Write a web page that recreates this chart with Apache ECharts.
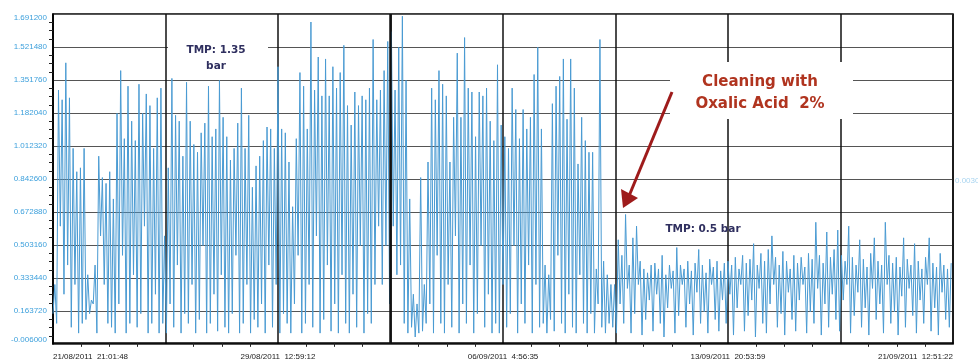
<!DOCTYPE html>
<html>
<head>
<meta charset="utf-8">
<script src="https://cdn.jsdelivr.net/npm/echarts@6/dist/echarts.min.js"></script>
<style>
  html, body { margin: 0; padding: 0; background: #fff; }
  #chart { width: 978px; height: 361px; }
</style>
</head>
<body>
<div id="chart"></div>
<script>
// time axis: 8 grid columns, a date label every 2 columns
const startMs = Date.UTC(2011, 7, 21, 21, 1, 48);
const columnMs = 331121750;
const columnCount = 8;
const xTickLabels = ['21/08/2011  21:01:48', '29/08/2011  12:59:12', '06/09/2011  4:56:35', '13/09/2011  20:53:59', '21/09/2011  12:51:22'];

// y axis
const yMin = -0.006;
const yMax = 1.6912;
const yStep = 0.16972;

// readings before the cleaning (peaks and the dips after them)
const peaksBefore = [
  0.30, 1.30, 1.25, 1.44, 1.26, 1.00, 0.88, 0.90, 1.00, 0.35, 0.22, 0.40, 0.96, 0.85, 0.82, 0.88, 0.74, 1.18, 1.40, 1.05, 1.32, 1.14, 1.04, 1.33, 1.18, 1.28, 1.22, 1.00, 1.26, 1.31,
  0.55, 0.90, 1.36, 1.17, 1.14, 0.96, 1.34, 1.14, 1.02, 0.98, 1.08, 1.13, 1.32, 1.06, 1.10, 1.35, 1.16, 1.06, 0.94, 1.00, 1.13, 1.31, 1.00, 1.17, 0.80, 0.91, 0.96, 1.04, 1.11, 1.10,
  1.00, 1.42, 1.10, 1.08, 0.93, 0.70, 1.05, 1.39, 1.32, 1.10, 1.65, 1.30, 1.47, 1.27, 1.46, 1.27, 1.42, 1.31, 1.39, 1.53, 1.22, 1.12, 1.29, 1.22, 1.27, 1.25, 1.31, 1.56, 1.25, 1.30,
  1.40, 1.55, 1.60, 1.30, 1.52, 1.68, 1.35, 0.74, 0.25, 0.20, 0.85, 0.30, 0.93, 1.31, 1.25, 1.40, 1.33, 1.27, 0.93, 1.16, 1.49, 1.16, 1.57, 1.31, 1.29, 1.06, 1.29, 1.27, 1.31, 1.14, 1.04,
  1.43, 1.12, 1.06, 1.00, 1.31, 1.20, 1.05, 1.20, 1.10, 1.16, 1.38, 1.52, 1.10, 0.40, 0.35, 1.23, 1.32, 1.37, 1.46, 1.15, 1.46, 1.31, 0.92, 1.16, 1.04, 0.98, 0.98, 0.38, 1.56, 0.42, 0.35, 0.30
];
const troughsBefore = [
  0.15, 0.10, 0.60, 0.25, 0.40, 0.08, 0.30, 0.05, 0.10, 0.12, 0.15, 0.20, 0.05, 0.55, 0.30, 0.10, 0.08, 0.05, 0.20, 0.45, 0.05, 0.10, 0.35, 0.08, 0.15, 0.60, 0.05, 0.10, 0.25, 0.05,
  0.10, 0.05, 0.20, 0.08, 0.40, 0.05, 0.15, 0.10, 0.30, 0.05, 0.12, 0.50, 0.05, 0.10, 0.25, 0.06, 0.35, 0.08, 0.05, 0.15, 0.45, 0.05, 0.10, 0.30, 0.05, 0.12, 0.08, 0.20, 0.05, 0.40,
  0.08, 0.30, 0.05, 0.15, 0.10, 0.05, 0.20, 0.45, 0.05, 0.10, 0.30, 0.08, 0.55, 0.05, 0.12, 0.40, 0.06, 0.20, 0.05, 0.35, 0.10, 0.05, 0.25, 0.08, 0.50, 0.05, 0.15, 0.10, 0.30, 0.60,
  0.30, 0.50, 0.20, 0.60, 0.35, 0.40, 0.10, 0.05, 0.08, 0.03, 0.05, 0.06, 0.10, 0.20, 0.05, 0.45, 0.10, 0.05, 0.30, 0.08, 0.55, 0.05, 0.20, 0.10, 0.40, 0.05, 0.15, 0.50, 0.08, 0.25, 0.05,
  0.10, 0.05, 0.30, 0.08, 0.15, 0.50, 0.05, 0.20, 0.10, 0.40, 0.05, 0.30, 0.08, 0.10, 0.05, 0.12, 0.06, 0.45, 0.10, 0.05, 0.25, 0.08, 0.05, 0.35, 0.10, 0.05, 0.15, 0.05, 0.20, 0.08, 0.05, 0.10
];

// readings after cleaning with oxalic acid
const peaksAfter = [
  0.30, 0.53, 0.45, 0.66, 0.40, 0.54, 0.60, 0.42, 0.38, 0.36, 0.40, 0.41, 0.38, 0.45, 0.35, 0.40, 0.37, 0.49, 0.40, 0.38, 0.42, 0.37, 0.41, 0.48, 0.40, 0.36, 0.43, 0.39, 0.42, 0.37, 0.41,
  0.42, 0.40, 0.44, 0.38, 0.45, 0.41, 0.43, 0.51, 0.40, 0.46, 0.42, 0.48, 0.55, 0.44, 0.40, 0.47, 0.42, 0.38, 0.45, 0.41, 0.44, 0.39, 0.46, 0.43, 0.62, 0.45, 0.41, 0.57, 0.44, 0.48, 0.58,
  0.45, 0.42, 0.60, 0.44, 0.40, 0.53, 0.43, 0.39, 0.46, 0.54, 0.42, 0.40, 0.62, 0.45, 0.41, 0.44, 0.39, 0.54, 0.43, 0.40, 0.51, 0.42, 0.38, 0.44, 0.54, 0.41, 0.39, 0.46, 0.40, 0.38, 0.41
];
const troughsAfter = [
  0.08, 0.05, 0.20, 0.10, 0.28, 0.05, 0.15, 0.30, 0.04, 0.12, 0.22, 0.06, 0.25, 0.10, 0.03, 0.18, 0.28, 0.05, 0.14, 0.30, 0.08, 0.20, 0.04, 0.26, 0.10, 0.16, 0.05, 0.30, 0.12, 0.06, 0.22,
  0.10, 0.25, 0.04, 0.18, 0.30, 0.06, 0.14, 0.22, 0.03, 0.28, 0.10, 0.05, 0.20, 0.30, 0.08, 0.15, 0.04, 0.26, 0.12, 0.06, 0.22, 0.30, 0.05, 0.16, 0.10, 0.28, 0.04, 0.20, 0.08, 0.25, 0.12,
  0.06, 0.22, 0.30, 0.05, 0.14, 0.26, 0.08, 0.18, 0.04, 0.28, 0.12, 0.20, 0.05, 0.30, 0.10, 0.16, 0.04, 0.24, 0.08, 0.28, 0.14, 0.05, 0.22, 0.10, 0.30, 0.06, 0.18, 0.04, 0.26, 0.12, 0.08
];

const peaks = peaksBefore.concat(peaksAfter);
const troughs = troughsBefore.concat(troughsAfter);
const endMs = startMs + columnCount * columnMs;
const pointCount = peaks.length * 2;
const stepMs = (endMs - startMs) / pointCount;

const seriesData = [];
peaks.forEach((p, i) => {
  seriesData.push([startMs + (2 * i) * stepMs, troughs[i]]);
  seriesData.push([startMs + (2 * i + 1) * stepMs, p]);
});

const chart = echarts.init(document.getElementById('chart'));

const option = {
  animation: false,
  backgroundColor: '#fff',
  grid: {
    left: 53, right: 25, top: 14, bottom: 17,
    show: true, borderColor: '#000', borderWidth: 1.5
  },
  xAxis: {
    type: 'value',
    min: startMs,
    max: endMs,
    interval: columnMs,
    axisLine: { lineStyle: { color: '#000', width: 1.5 } },
    axisTick: { show: false },
    minorTick: { show: true, splitNumber: 4, length: 4, lineStyle: { color: '#222', width: 1 } },
    axisLabel: {
      fontSize: 8, color: '#222', fontFamily: 'Liberation Sans', margin: 9,
      alignMinLabel: 'left', alignMaxLabel: 'right',
      showMinLabel: true, showMaxLabel: true,
      formatter: (v) => {
        const idx = Math.round((v - startMs) / columnMs);
        return idx % 2 === 0 ? (xTickLabels[idx / 2] || '') : '';
      }
    },
    splitLine: { show: true, lineStyle: { color: '#111', width: 1.5 } }
  },
  yAxis: {
    type: 'value',
    min: yMin,
    max: yMax,
    interval: yStep,
    axisLine: { show: true, lineStyle: { color: '#000', width: 1.5 } },
    axisTick: { show: false },
    minorTick: { show: true, splitNumber: 4, length: 4, lineStyle: { color: '#222', width: 1 } },
    axisLabel: {
      fontSize: 8, color: '#3da0dc', fontFamily: 'Liberation Sans', margin: 6,
      verticalAlignMinLabel: 'bottom', verticalAlignMaxLabel: 'top',
      formatter: (v) => v.toFixed(6)
    },
    splitLine: { show: true, lineStyle: { color: '#555', width: 1.2 } }
  },
  series: [{
    type: 'line',
    data: seriesData,
    showSymbol: false,
    sampling: 'none',
    lineStyle: { color: '#4a9bd3', width: 1 },
    z: 3,
    markLine: {
      silent: true,
      symbol: 'none',
      label: { show: false },
      lineStyle: { color: '#111', width: 2.5, type: 'solid' },
      data: [{ xAxis: startMs + 3 * columnMs }]
    }
  }],
  graphic: [
    { type: 'rect', z: 100, shape: { x: 168, y: 38, width: 100, height: 38 }, style: { fill: '#fff' } },
    { type: 'text', z: 101, x: 216, y: 50, style: { text: 'TMP: 1.35', font: 'bold 10.5px "DejaVu Sans"', fill: '#2f2f5f', textAlign: 'center', textVerticalAlign: 'middle' } },
    { type: 'text', z: 101, x: 216, y: 66, style: { text: 'bar', font: 'bold 10.5px "DejaVu Sans"', fill: '#2f2f5f', textAlign: 'center', textVerticalAlign: 'middle' } },
    { type: 'rect', z: 100, shape: { x: 670, y: 62, width: 183, height: 57 }, style: { fill: '#fff' } },
    { type: 'text', z: 101, x: 760, y: 82, style: { text: 'Cleaning with', font: 'bold 15px "DejaVu Sans"', fill: '#b0341f', textAlign: 'center', textVerticalAlign: 'middle' } },
    { type: 'text', z: 101, x: 760, y: 104, style: { text: 'Oxalic Acid  2%', font: 'bold 15px "DejaVu Sans"', fill: '#b0341f', textAlign: 'center', textVerticalAlign: 'middle' } },
    { type: 'line', z: 101, shape: { x1: 672, y1: 92, x2: 629, y2: 196 }, style: { stroke: '#9e1b1b', lineWidth: 3 } },
    { type: 'polygon', z: 101, shape: { points: [[623, 208], [621, 189], [638, 198]] }, style: { fill: '#9e1b1b' } },
    { type: 'text', z: 101, x: 703, y: 229, style: { text: 'TMP: 0.5 bar', font: 'bold 10.5px "DejaVu Sans"', fill: '#2f2f5f', textAlign: 'center', textVerticalAlign: 'middle' } },
    { type: 'text', z: 101, x: 955, y: 181, style: { text: '0.0030', font: '8px "Liberation Sans"', fill: '#a8d4f0', textVerticalAlign: 'middle' } }
  ]
};

chart.setOption(option);
</script>
</body>
</html>
